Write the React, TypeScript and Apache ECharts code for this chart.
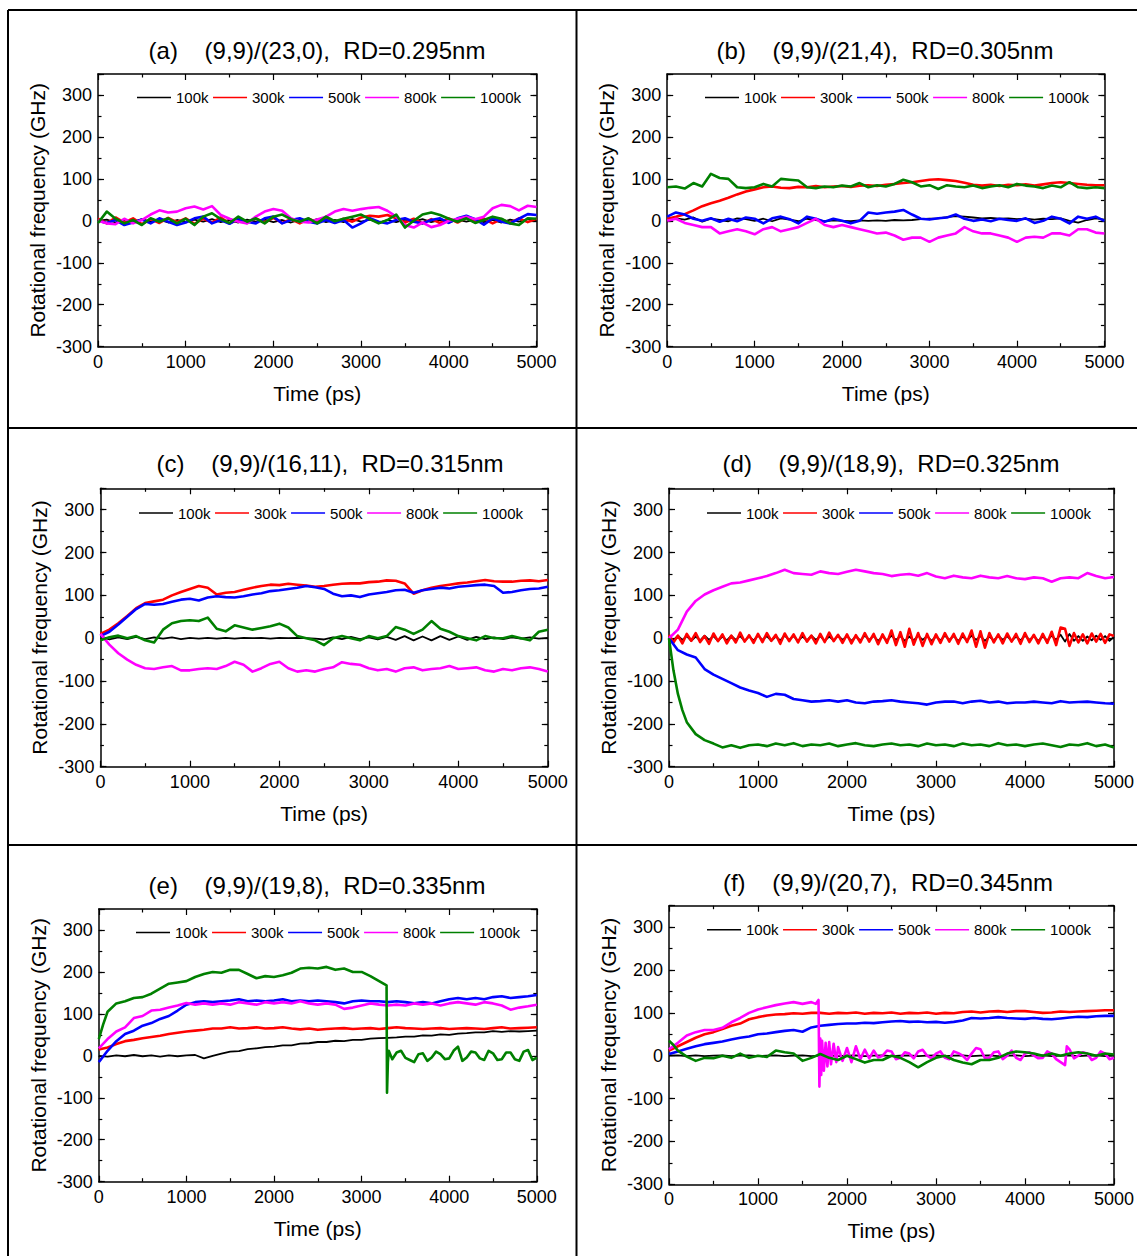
import React, { useEffect, useRef } from 'react';
import * as echarts from 'echarts';

const NAMES = ['100k', '300k', '500k', '800k', '1000k'];
const COLORS = ['#000000', '#ff0000', '#0000ff', '#ff00ff', '#008000'];
const WIDTHS = [1.8, 2.6, 2.6, 2.6, 2.6];
const X_MIN = 0;
const X_MAX = 5000;
const Y_MIN = -300;
const Y_MAX = 350;
const FONT = 'Arial, "Liberation Sans", sans-serif';

// Each value array is evenly spaced over 0..5000 ps (51 values = 100 ps step, 101 values = 50 ps step)

// ---- panel (a) ----
const A_100k = [0,3,-4,2,-3,4,-2,3,-4,2, -3,3,-2,4,-3,2,-4,3,-2,3, -3,2,-4,3,-2,4,-3,2,-3,4, -2,3,-4,2,-3,3,-2,4,-3,2, -4,3,-2,3,-3,2,-4,3,-2,4, 0];
const A_300k = [5,-6,8,-4,6,-8,4,-5,7,-3, 6,-7,5,-4,8,-6,3,-5,6,-4, 7,-5,4,-6,5,-3,6,-4,5,-2, 8,12,10,14,6,-4,5,-6,4,-5, 6,-4,7,-3,5,-6,4,-5,6,-3, 5];
const A_500k = [0,-5,2,-10,-4,3,-6,6,-2,-10, -4,6,10,-6,2,-7,5,-2,-6,6, 10,-6,2,6,-2,-6,2,-5,2,-16, -6,6,-2,-6,2,6,-2,-6,2,6, -5,6,12,4,-9,6,-2,-6,5,16, 14];
const A_800k = [0,-6,-8,5,-6,2,15,25,20,22, 30,34,27,35,14,5,-2,-6,10,22, 28,24,6,-2,-4,3,10,22,28,24, 28,31,33,24,10,-10,-16,-4,-15,-10, 0,5,10,4,10,30,38,35,25,36, 33];
const A_1000k = [-5,22,5,-6,2,-10,6,-2,6,-6, 5,-10,10,18,4,-5,10,-2,6,-6, 10,15,4,-2,6,-6,10,-1,5,10, 15,4,-6,2,15,-16,0,15,20,14, 5,-2,6,-5,2,10,5,-6,-10,6, 5];

// ---- panel (b) ----
const B_100k = [0,6,3,8,-2,5,2,-1,6,4, 0,5,-1,6,3,-1,5,2,-1,1, 0,-1,1,0,1,0,2,1,2,4, 5,6,9,11,10,8,6,7,5,6, 4,5,3,5,4,6,0,-4,2,6, 3];
const B_300k = [5,10,16,25,35,42,48,55,63,70, 75,80,82,79,78,81,80,83,80,82, 83,81,84,85,83,86,88,90,92,95, 98,99,97,95,91,86,84,86,83,86, 85,87,84,87,90,92,90,88,86,85, 85];
const B_500k = [10,20,15,5,0,6,-2,5,-1,8, 5,-6,6,10,4,-6,10,5,-2,5, 0,-6,0,20,17,20,22,26,15,5, 3,6,8,15,5,0,3,-1,5,2, 0,6,-5,0,10,5,-6,10,5,10, 0];
const B_800k = [0,5,-5,-10,-15,-15,-30,-25,-20,-25, -32,-20,-15,-25,-20,-15,-5,5,-10,-15, -10,-15,-20,-25,-30,-28,-35,-45,-40,-40, -50,-40,-35,-30,-15,-25,-30,-30,-35,-40, -50,-40,-38,-40,-30,-30,-35,-20,-20,-28, -30];
const B_1000k = [80,82,77,90,82,112,102,100,80,78, 80,88,82,100,98,96,80,78,82,80, 84,82,90,80,85,82,88,98,92,82, 85,76,85,82,80,84,78,82,85,80, 88,84,82,78,84,80,92,80,78,80, 78];

// ---- panel (c) ----
const C_100k = [5,-3,2,-2,3,-2,2,-1,2,-2, 1,-1,1,-1,1,-1,1,0,1,-1, 1,0,1,0,-1,-3,2,-2,3,-2, 2,-3,3,-4,5,-5,4,-5,5,-4, 4,-4,3,-2,2,-2,2,-1,2,-1, 1];
const C_300k = [10,20,35,52,70,82,86,90,100,108, 115,122,118,102,106,108,113,118,122,125, 124,127,125,123,120,122,125,127,128,128, 131,132,135,134,128,104,112,118,122,125, 128,130,133,136,133,132,132,134,135,133, 136];
const C_500k = [5,15,32,50,68,80,78,80,85,90, 92,88,95,98,96,95,98,102,105,110, 112,115,118,122,119,115,104,98,100,96, 102,105,108,112,113,106,112,115,118,116, 120,122,124,125,122,106,108,112,115,116, 120];
const C_800k = [10,-15,-35,-50,-62,-70,-72,-68,-65,-75, -75,-72,-70,-72,-65,-55,-62,-78,-70,-60, -55,-70,-78,-75,-78,-72,-68,-56,-60,-62, -70,-75,-72,-78,-70,-68,-75,-72,-70,-65, -72,-70,-68,-75,-78,-72,-75,-70,-68,-72, -78];
const C_1000k = [-5,2,6,0,5,-5,-10,20,35,40, 42,40,48,22,16,30,25,20,24,28, 34,25,5,0,-5,-16,0,5,0,-5, 5,0,5,26,20,10,20,40,22,15, 5,0,-5,5,0,0,5,0,-5,15, 20];

// ---- panel (d) ----  (100k and 300k at 50 ps step)
const D_100k = [4,-5,6,-4,5,-6,4,-5,6,-4, 5,-6,4,-5,6,-4,5,-6,4,-5, 6,-4,5,-6,4,-5,6,-4,5,-6, 4,-5,6,-4,5,-6,4,-5,6,-4, 5,-6,4,-5,6,-4,5,-6,4,-5, 6,-4,5,-6,4,-5,6,-4,5,-6, 4,-5,6,-4,5,-6,4,-5,6,-4, 5,-6,4,-5,6,-4,5,-6,4,-5, 6,-4,5,-6,4,-5,6,-4,8,-8, 10,-6,5,-6,4,-5,6,-4,5,-6, 3];
const D_300k = [8,-10,6,-12,10,-6,12,-9,5,-13, 11,-7,9,-12,6,-10,13,-8,7,-11, 10,-9,12,-6,8,-13,11,-7,9,-10, 12,-8,6,-12,10,-9,13,-7,8,-11, 9,-12,7,-10,12,-8,10,-14,9,-11, 18,-16,14,-20,22,-15,12,-18,10,-14, 9,-11,12,-8,10,-13,11,-9,18,-20, 16,-22,12,-10,9,-12,11,-8,10,-13, 12,-9,8,-12,10,-11,15,-16,25,22, -18,12,-10,9,-12,11,-8,10,-11,9, 5];
const D_500k = [0,-28,-38,-45,-72,-85,-95,-105,-115,-122, -128,-137,-130,-132,-142,-145,-148,-147,-145,-148, -145,-150,-152,-148,-147,-145,-148,-150,-152,-155, -150,-148,-148,-152,-148,-146,-150,-148,-152,-150, -150,-148,-150,-152,-147,-150,-149,-148,-150,-152, -153];
const D_800k = [0,20,62,87,102,112,120,128,130,135, 140,145,152,160,152,150,148,156,152,150, 155,160,156,152,150,145,148,150,146,152, 144,140,146,142,140,146,142,140,145,140, 138,142,140,132,140,142,140,152,145,140, 143];
const D_1000k = [0,-130,-196,-224,-238,-246,-255,-250,-256,-250, -248,-252,-246,-250,-245,-252,-248,-250,-246,-252, -248,-245,-250,-252,-248,-246,-250,-248,-252,-246, -250,-248,-252,-246,-250,-248,-252,-245,-250,-248, -252,-248,-246,-250,-254,-248,-250,-245,-252,-248, -255];
const D_1000k_extra = [[50, -75], [150, -168]];

// ---- panel (e) ----
const E_100k = [0,-2,1,-1,2,-1,1,-2,1,-1, 1,2,-6,0,5,10,11,16,18,21, 22,25,25,29,30,33,33,36,35,38, 38,41,42,43,44,46,46,49,48,51, 50,53,54,56,56,59,57,59,58,59, 60];
const E_300k = [15,20,28,35,38,42,45,48,52,55, 58,60,62,65,65,68,65,66,68,65, 66,68,65,63,65,62,64,65,66,64, 65,66,64,66,68,66,65,64,65,66, 64,65,66,65,64,66,68,65,66,67, 68];
const E_500k = [-15,12,35,52,60,72,78,88,95,108, 122,128,130,128,130,132,135,130,132,130, 132,135,130,132,130,132,130,128,125,130, 132,130,130,128,130,128,125,128,125,130, 135,138,135,138,135,140,142,138,140,142, 145];
const E_800k = [18,40,58,68,90,95,108,110,115,120, 126,122,125,122,125,122,128,125,122,128, 125,128,125,130,125,122,125,122,112,115, 120,125,122,120,122,120,125,122,125,120, 125,128,125,122,128,125,120,110,115,118, 122];
const E_1000k = [40,105,125,130,138,140,148,160,172,175, 178,188,195,200,198,205,205,195,185,190, 188,192,198,208,210,208,212,205,208,200, 200,190,178,-15,8,-5,-15,6,-4,4, -6,22,-4,8,-10,6,-8,8,-12,14, -4];
const E_1000k_extra = [[50, 75], [3250, 172], [3285, 168], [3290, -88], [3310, 12], [3350, -8], [3450, 12], [3550, -10], [3650, 4], [3750, -12], [3850, 10], [3950, -8], [4050, 12], [4150, -12], [4250, 10], [4350, -6], [4450, 12], [4550, -10], [4650, 8], [4750, -8], [4850, 10], [4950, -10]];

// ---- panel (f) ----
const F_100k = [0,1,-1,1,-1,0,1,-1,0,1, -1,0,1,-1,0,1,-1,0,1,-1, 0,1,-1,0,1,-1,0,1,-1,0, 1,-1,0,1,-1,0,1,-1,0,1, -1,0,1,-1,0,1,-1,0,1,-1, 0];
const F_300k = [12,22,32,42,50,55,62,70,75,85, 90,94,96,97,99,98,100,100,98,100, 99,101,98,100,99,101,98,100,99,101, 98,100,99,102,103,101,103,104,102,104, 104,102,100,101,103,102,103,104,105,106, 106];
const F_500k = [4,10,16,22,27,30,33,38,42,45, 50,52,55,58,60,56,66,70,72,74, 75,75,77,76,78,80,81,79,80,78, 79,77,79,82,88,87,88,90,88,87, 86,88,86,85,87,89,91,90,92,93, 93];
const F_800k = [15,30,47,55,60,60,65,78,88,100, 108,113,118,122,125,121,125,40,32,20, 18,22,14,12,0,10,-5,5,10,0, 5,-5,10,0,5,15,-5,10,0,-5, 5,0,-5,5,-15,15,0,5,-5,5, -5];
const F_800k_extra = [[1650, 121], [1680, 130], [1690, -72], [1710, -45], [1720, 35], [1740, -35], [1760, 30], [1780, -25], [1820, -20], [1850, 28], [1880, -15], [1950, -12], [2050, -15], [2150, -8], [2250, -6], [2350, -4], [2450, 12], [2550, -8], [2650, 8], [2750, -6], [2850, 14], [2950, -6], [3050, 10], [3150, -8], [3250, 6], [3350, -10], [3450, 18], [3550, -6], [3650, 8], [3750, -8], [3850, 12], [3950, -10], [4050, 8], [4150, -6], [4250, 10], [4350, -8], [4450, -22], [4470, 22], [4550, -6], [4650, 8], [4750, -10], [4850, 10], [4950, -8]];
const F_1000k = [35,12,-2,-12,-5,-6,0,-5,5,-5, 0,-3,12,8,5,-12,-5,4,-5,-10, 0,-8,-16,-10,-10,0,-5,-15,-27,-15, -5,0,-10,-16,-20,-10,-10,-5,5,10, 8,5,0,5,0,5,8,5,0,5, 3];
const F_1000k_extra = [[50, 25], [150, 5]];

const TITLES = [
  '(a)    (9,9)/(23,0),  RD=0.295nm',
  '(b)    (9,9)/(21,4),  RD=0.305nm',
  '(c)    (9,9)/(16,11),  RD=0.315nm',
  '(d)    (9,9)/(18,9),  RD=0.325nm',
  '(e)    (9,9)/(19,8),  RD=0.335nm',
  '(f)    (9,9)/(20,7),  RD=0.345nm',
];

const PANEL_DATA = [
  { series: [A_100k, A_300k, A_500k, A_800k, A_1000k], extras: [null, null, null, null, null] },
  { series: [B_100k, B_300k, B_500k, B_800k, B_1000k], extras: [null, null, null, null, null] },
  { series: [C_100k, C_300k, C_500k, C_800k, C_1000k], extras: [null, null, null, null, null] },
  { series: [D_100k, D_300k, D_500k, D_800k, D_1000k], extras: [null, null, null, null, D_1000k_extra] },
  { series: [E_100k, E_300k, E_500k, E_800k, E_1000k], extras: [null, null, null, null, E_1000k_extra] },
  { series: [F_100k, F_300k, F_500k, F_800k, F_1000k], extras: [null, null, null, F_800k_extra, F_1000k_extra] },
];

// layout (page pixels)
const LAYOUT = [
  { grid: { left: 98, top: 74, width: 438.5, height: 272.7 }, title: [317, 50], legend: [137, 90] },
  { grid: { left: 667.2, top: 74, width: 437.2, height: 272.7 }, title: [885, 50], legend: [705, 90] },
  { grid: { left: 100.4, top: 488.3, width: 447.4, height: 278.4 }, title: [330, 463], legend: [139, 505.5] },
  { grid: { left: 669, top: 488.3, width: 446.5, height: 278.4 }, title: [891, 463], legend: [707, 505.5] },
  { grid: { left: 98.8, top: 909, width: 438, height: 272.7 }, title: [317, 885], legend: [136, 925] },
  { grid: { left: 669, top: 905.7, width: 446.5, height: 278.6 }, title: [888, 882], legend: [707, 922.3] },
];

function toPairs(vals: number[], extra: number[][] | null) {
  const step = (X_MAX - X_MIN) / (vals.length - 1);
  const pts = vals.map((v, i) => [X_MIN + i * step, v]);
  const all = extra ? pts.concat(extra) : pts;
  return all.slice().sort((a, b) => a[0] - b[0]);
}

const AX_LINE = { show: true, onZero: false, lineStyle: { color: '#000', width: 1.5 } };

function buildOption() {
  const grids: any[] = [];
  const xAxes: any[] = [];
  const yAxes: any[] = [];
  const legends: any[] = [];
  const series: any[] = [];
  const graphics: any[] = [];

  LAYOUT.forEach((L, i) => {
    grids.push({ ...L.grid, containLabel: false, show: false });
    const xCommon = {
      type: 'value', gridIndex: i, min: X_MIN, max: X_MAX, interval: 1000,
      axisLine: AX_LINE,
      axisTick: { show: true, inside: true, length: 6, lineStyle: { color: '#000', width: 1.2 } },
      minorTick: { show: true, splitNumber: 2, length: 3.5, lineStyle: { color: '#000', width: 1.2 } },
      splitLine: { show: false }, minorSplitLine: { show: false },
    };
    xAxes.push({
      ...xCommon, position: 'bottom',
      name: 'Time (ps)', nameLocation: 'middle', nameGap: 36,
      nameTextStyle: { fontSize: 21, color: '#000', fontFamily: FONT },
      axisLabel: {
        show: true, fontSize: 18, color: '#000', margin: 6, fontFamily: FONT,
        formatter: (v: number) => String(v),
      },
    });
    xAxes.push({ ...xCommon, position: 'top', axisLabel: { show: false } });

    const yMajor = {
      type: 'value', gridIndex: i, min: Y_MIN, max: Y_MAX, interval: 100,
      axisLine: AX_LINE,
      axisTick: { show: true, inside: true, length: 6, lineStyle: { color: '#000', width: 1.2 } },
      splitLine: { show: false },
    };
    const yMinor = {
      type: 'value', gridIndex: i, min: Y_MIN, max: Y_MAX, interval: 50,
      axisLine: { show: false, onZero: false },
      axisTick: { show: true, inside: true, length: 3.5, lineStyle: { color: '#000', width: 1.2 } },
      axisLabel: { show: false },
      splitLine: { show: false },
    };
    yAxes.push({
      ...yMajor, position: 'left',
      name: 'Rotational frequency (GHz)', nameLocation: 'middle', nameGap: 50,
      nameTextStyle: { fontSize: 21, color: '#000', fontFamily: FONT },
      axisLabel: {
        show: true, fontSize: 18, color: '#000', margin: 6, fontFamily: FONT,
        formatter: (v: number) => (v > 300 ? '' : String(v)),
      },
    });
    yAxes.push({ ...yMinor, position: 'left' });
    yAxes.push({ ...yMajor, position: 'right', axisLabel: { show: false } });
    yAxes.push({ ...yMinor, position: 'right' });

    legends.push({
      left: L.legend[0], top: L.legend[1], orient: 'horizontal', padding: 0,
      itemGap: 4.5, itemWidth: 34, itemHeight: 1.6, icon: 'rect', selectedMode: false,
      textStyle: { fontSize: 15, color: '#000', fontFamily: FONT },
      data: NAMES,
    });

    const P = PANEL_DATA[i];
    P.series.forEach((vals, k) => {
      series.push({
        type: 'line', name: NAMES[k], xAxisIndex: 2 * i, yAxisIndex: 4 * i,
        data: toPairs(vals, P.extras[k] as any),
        showSymbol: false, symbol: 'none', silent: true, z: 2 + k,
        lineStyle: { color: COLORS[k], width: WIDTHS[k], join: 'round' },
        itemStyle: { color: COLORS[k] },
      });
    });

    graphics.push({
      type: 'text', x: L.title[0], y: L.title[1], silent: true,
      style: {
        text: TITLES[i], fontSize: 24, fontFamily: FONT, fill: '#000',
        align: 'center', verticalAlign: 'middle',
      },
    });
  });

  const border = (x1: number, y1: number, x2: number, y2: number) => ({
    type: 'line', silent: true,
    shape: { x1, y1, x2, y2 },
    style: { stroke: '#000', lineWidth: 2 },
  });
  graphics.push(border(8, 10, 1137, 10));
  graphics.push(border(8, 10, 8, 1256));
  graphics.push(border(576.5, 10, 576.5, 1256));
  graphics.push(border(8, 428, 1137, 428));
  graphics.push(border(8, 845, 1137, 845));

  return {
    animation: false,
    backgroundColor: '#fff',
    textStyle: { fontFamily: FONT },
    grid: grids,
    xAxis: xAxes,
    yAxis: yAxes,
    legend: legends,
    series,
    graphic: graphics,
  };
}

export default function App() {
  const ref = useRef<HTMLDivElement>(null);
  useEffect(() => {
    if (!ref.current) return;
    const chart = echarts.init(ref.current, null, { renderer: 'svg' });
    chart.setOption(buildOption() as any);
    return () => chart.dispose();
  }, []);
  return (
    <div
      ref={ref}
      style={{ position: 'absolute', left: 0, top: 0, width: 1137, height: 1256, background: '#fff' }}
    />
  );
}
